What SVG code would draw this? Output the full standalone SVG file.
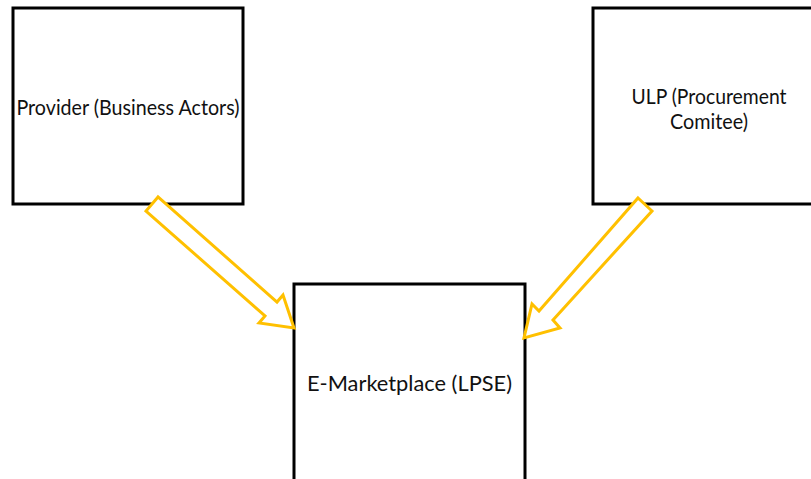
<svg xmlns="http://www.w3.org/2000/svg" width="811" height="479" viewBox="0 0 811 479">
  <style>
    .box { fill: #ffffff; stroke: #000000; stroke-width: 3; }
    .label { font-family: Lato, "Open Sans", "Liberation Sans", sans-serif; font-size: 22px; fill: #111111; text-anchor: middle; }
    .small { font-size: 20.5px; }
    .flow { fill: #ffffff; stroke: #FFC000; stroke-width: 3; stroke-linejoin: miter; }
  </style>
  <rect width="811" height="479" fill="#ffffff"/>

  <g id="provider">
    <rect class="box" x="13" y="8" width="230" height="196"/>
    <text class="label" x="128" y="114.5" textLength="223" lengthAdjust="spacingAndGlyphs">Provider (Business Actors)</text>
  </g>

  <g id="ulp">
    <rect class="box" x="593" y="8" width="230" height="196"/>
    <text class="label small" x="709" y="104" textLength="155" lengthAdjust="spacingAndGlyphs">ULP (Procurement</text>
    <text class="label small" x="709" y="129" textLength="78" lengthAdjust="spacingAndGlyphs">Comitee)</text>
  </g>

  <g id="emarketplace">
    <rect class="box" x="294" y="284" width="231" height="210"/>
    <text class="label" x="409.5" y="391" textLength="205" lengthAdjust="spacingAndGlyphs">E-Marketplace (LPSE)</text>
  </g>

  <g id="connectors">
    <polygon class="flow" points="158,197 146,211 265,316 259,323 294,328 283,295 277,302"/>
    <polygon class="flow" points="638,198 652,211 553,320 560,328 524,338 532,304 539,311"/>
  </g>
</svg>
